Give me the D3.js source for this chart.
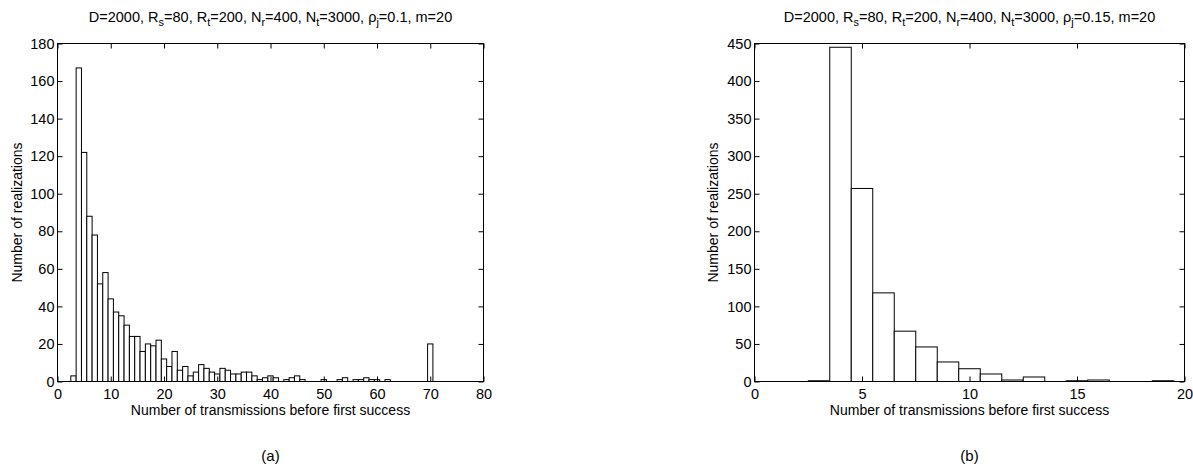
<!DOCTYPE html>
<html>
<head>
<meta charset="utf-8">
<script src="https://cdn.jsdelivr.net/npm/d3@7"></script>
<style>
  body { margin: 0; background: #fff; }
  text { font-family: "Liberation Sans", Arial, sans-serif; fill: #000; }
</style>
</head>
<body>
<script>
onload = function () {

  var width = 1193,
      height = 471;

  // panel (a): counts for bins centred at 1..70, rho_j = 0.1
  var binsA = d3.range(1, 71);
  var countsA = [0, 0, 3, 167, 122, 88, 78, 52, 58, 44,
                 37, 35, 30, 24, 24, 16, 20, 19, 22, 12,
                 8, 16, 6, 8, 3, 5, 9, 7, 5, 4,
                 7, 6, 4, 4, 5, 5, 3, 1, 2, 3,
                 2, 0, 1, 2, 3, 1, 0, 0, 0, 1,
                 0, 0, 1, 2, 0, 1, 1, 2, 1, 1,
                 0, 1, 0, 0, 0, 0, 0, 0, 0, 20];
  var xTicksA = [0, 10, 20, 30, 40, 50, 60, 70, 80];
  var yTicksA = [0, 20, 40, 60, 80, 100, 120, 140, 160, 180];

  // panel (b): counts for bins centred at 1..20, rho_j = 0.15
  var binsB = d3.range(1, 21);
  var countsB = [0, 0, 1, 445, 257, 118, 67, 46, 26, 17,
                 10, 2, 6, 0, 1, 2, 0, 0, 1, 0];
  var xTicksB = [0, 5, 10, 15, 20];
  var yTicksB = [0, 50, 100, 150, 200, 250, 300, 350, 400, 450];

  var svg = d3.select("body").append("svg")
              .attr("width", width)
              .attr("height", height);

  function panel(opts) {
    var x = d3.scaleLinear().domain(opts.xDomain).range([opts.left, opts.right]);
    var y = d3.scaleLinear().domain(opts.yDomain).range([opts.bottom, opts.top]);
    var g = svg.append("g");

    g.selectAll("rect.bar")
      .data(opts.bins)
      .enter().append("rect")
      .attr("class", "bar")
      .attr("x", function (d) { return x(d - 0.5); })
      .attr("width", function (d) { return x(d + 0.5) - x(d - 0.5); })
      .attr("y", function (d, i) { return y(opts.counts[i]); })
      .attr("height", function (d, i) { return y(0) - y(opts.counts[i]); })
      .attr("fill", "#fff")
      .attr("stroke", "#000")
      .attr("stroke-width", 1);

    var ax = function (sel) {
      sel.selectAll(".domain").remove();
      sel.selectAll(".tick line").attr("stroke", "#000");
      sel.selectAll(".tick text")
        .style("font-size", "14.5px")
        .style("font-family", "'Liberation Sans', Arial, sans-serif");
    };

    g.append("g")
      .attr("transform", "translate(0," + opts.bottom + ")")
      .call(d3.axisBottom(x).tickValues(opts.xTicks).tickSizeInner(-5).tickSizeOuter(0).tickPadding(7))
      .call(ax);
    g.append("g")
      .attr("transform", "translate(0," + opts.top + ")")
      .call(d3.axisTop(x).tickValues(opts.xTicks).tickSizeInner(-5).tickSizeOuter(0).tickFormat(""))
      .call(ax);
    g.append("g")
      .attr("transform", "translate(" + opts.left + ",0)")
      .call(d3.axisLeft(y).tickValues(opts.yTicks).tickSizeInner(-5).tickSizeOuter(0).tickPadding(3))
      .call(ax);
    g.append("g")
      .attr("transform", "translate(" + opts.right + ",0)")
      .call(d3.axisRight(y).tickValues(opts.yTicks).tickSizeInner(-5).tickSizeOuter(0).tickFormat(""))
      .call(ax);

    g.append("rect")
      .attr("x", opts.left)
      .attr("y", opts.top)
      .attr("width", opts.right - opts.left)
      .attr("height", opts.bottom - opts.top)
      .attr("fill", "none")
      .attr("stroke", "#000")
      .attr("stroke-width", 1);

    var cx = (opts.left + opts.right) / 2;

    // title with subscripts
    var t = g.append("text")
      .attr("x", cx)
      .attr("y", opts.top - 22)
      .attr("text-anchor", "middle")
      .style("font-size", "14.5px");
    opts.title.forEach(function (p) {
      if (p.sub) {
        t.append("tspan").attr("dy", 4).style("font-size", "11px").text(p.sub);
        t.append("tspan").attr("dy", -4).text(p.t);
      } else {
        t.append("tspan").text(p.t);
      }
    });

    g.append("text")
      .attr("x", cx)
      .attr("y", opts.bottom + 33)
      .attr("text-anchor", "middle")
      .style("font-size", "14px")
      .text("Number of transmissions before first success");

    g.append("text")
      .attr("transform", "translate(" + opts.yLabelX + "," + (opts.top + opts.bottom) / 2 + ") rotate(-90)")
      .attr("text-anchor", "middle")
      .style("font-size", "14px")
      .text("Number of realizations");

    g.append("text")
      .attr("x", cx)
      .attr("y", 461)
      .attr("text-anchor", "middle")
      .style("font-size", "15px")
      .text(opts.tag);
  }

  function titleParts(rho) {
    return [
      { t: "D=2000, R" }, { sub: "s", t: "=80, R" }, { sub: "t", t: "=200, N" },
      { sub: "r", t: "=400, N" }, { sub: "t", t: "=3000, \u03c1" },
      { sub: "j", t: "=" + rho + ", m=20" }
    ];
  }

  panel({
    bins: binsA, counts: countsA, xTicks: xTicksA, yTicks: yTicksA,
    xDomain: [0, 80], yDomain: [0, 180],
    left: 57.5, right: 483.5, top: 43.5, bottom: 381.5,
    yLabelX: 22, title: titleParts("0.1"), tag: "(a)"
  });

  panel({
    bins: binsB, counts: countsB, xTicks: xTicksB, yTicks: yTicksB,
    xDomain: [0, 20], yDomain: [0, 450],
    left: 754.5, right: 1184.5, top: 43.5, bottom: 381.5,
    yLabelX: 718, title: titleParts("0.15"), tag: "(b)"
  });

}
</script>
</body>
</html>
